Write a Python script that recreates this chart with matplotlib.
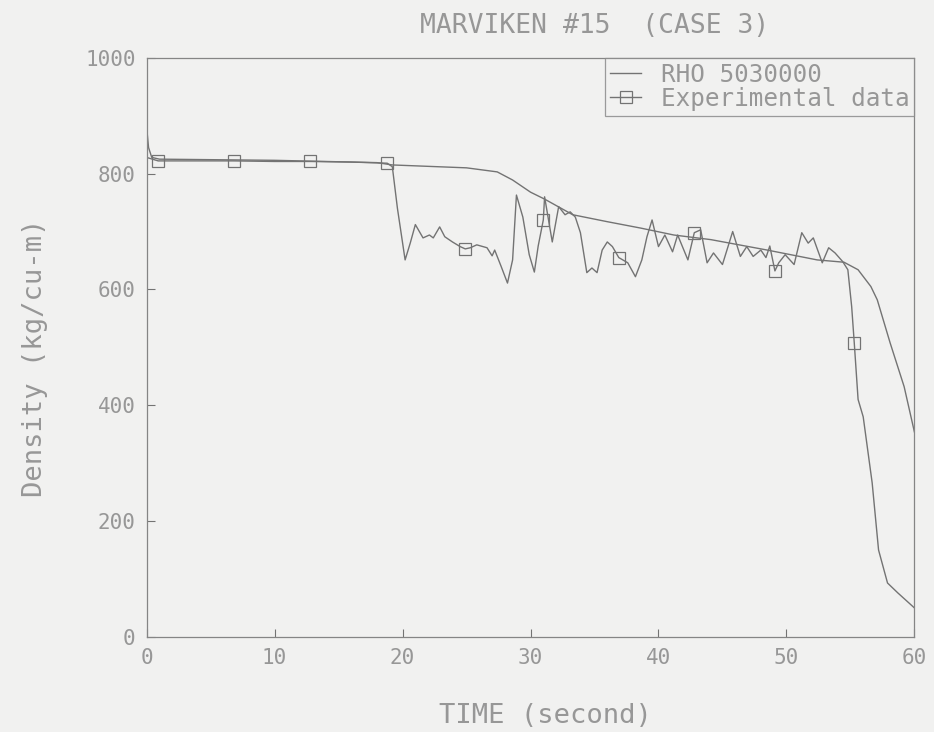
import matplotlib
matplotlib.use("Agg")
import matplotlib.pyplot as plt

# calculated density (RHO 5030000)
calc_t = [0.0, 0.15, 0.4, 1.0, 10.0, 18.0, 19.2, 25.0, 27.4, 28.6, 30.0, 31.1,
          33.3, 36.0, 38.6, 41.2, 44.1, 48.5, 52.4, 54.5, 55.6, 56.6, 57.1,
          58.1, 59.2, 60.0]
calc_v = [880, 845, 828, 825, 823, 819, 815, 810, 803, 789, 768, 756,
          729, 717, 706, 694, 686, 668, 651, 647, 634, 605, 582,
          508, 432, 354]

# experimental data
exp_t = [0.0, 0.9, 3.5, 6.8, 10.0, 12.8, 16.0, 18.8, 19.2, 19.6, 20.2, 20.6,
         21.0, 21.6, 22.1, 22.4, 22.9, 23.3, 23.9, 24.5, 24.9, 25.3, 25.8,
         26.6, 27.0, 27.2, 27.7, 28.2, 28.6, 28.9, 29.4, 29.9, 30.3, 30.6,
         31.0, 31.1, 31.7, 32.2, 32.7, 33.1, 33.5, 33.9, 34.4, 34.8, 35.2,
         35.6, 36.0, 36.4, 36.9, 37.6, 38.2, 38.7, 39.1, 39.5, 40.0, 40.5,
         41.1, 41.5, 42.3, 42.8, 43.3, 43.8, 44.3, 45.0, 45.8, 46.4, 46.9,
         47.4, 48.0, 48.4, 48.7, 49.1, 49.4, 49.9, 50.6, 51.2, 51.7, 52.1,
         52.8, 53.3, 53.8, 54.4, 54.8, 55.1, 55.3, 55.6, 56.0, 56.7, 57.2,
         57.9, 58.7, 59.5, 60.0]
exp_v = [828, 822, 822, 822, 821, 821, 820, 818, 812, 740, 651, 680,
         712, 689, 694, 689, 708, 691, 682, 674, 670, 672, 677,
         672, 658, 668, 640, 611, 651, 763, 725, 660, 630, 675,
         720, 760, 682, 743, 729, 734, 725, 698, 629, 637, 629,
         668, 682, 674, 655, 646, 622, 651, 691, 720, 674, 694,
         665, 694, 651, 698, 703, 646, 663, 643, 700, 657, 674,
         657, 668, 655, 675, 632, 646, 660, 643, 698, 680, 689,
         646, 672, 663, 648, 634, 570, 508, 410, 380, 266, 150,
         93, 76, 60, 50]
exp_marker_t = [0.9, 6.8, 12.8, 18.8, 24.9, 31.0, 36.9, 42.8, 49.1, 55.3]

x_ticks = [0, 10, 20, 30, 40, 50, 60]
y_ticks = [0, 200, 400, 600, 800, 1000]

bg = '#f1f1f0'
ink = '#737373'
txt = '#979797'
font = 'DejaVu Sans Mono'

fig = plt.figure(figsize=(9.34, 7.32), dpi=100, facecolor=bg)
ax = fig.add_axes([0.157, 0.130, 0.822, 0.791], facecolor=bg)

marker_idx = [exp_t.index(t) for t in exp_marker_t]

ax.plot(calc_t, calc_v, color=ink, lw=1.0, label='RHO 5030000')
ax.plot(exp_t, exp_v, color=ink, lw=1.0, marker='s', markersize=8,
        markerfacecolor='none', markeredgecolor=ink, markeredgewidth=0.9,
        markevery=marker_idx, label='Experimental data')

ax.set_xlim(0, 60)
ax.set_ylim(0, 1000)
ax.set_xticks(x_ticks)
ax.set_yticks(y_ticks)
ax.tick_params(direction='in', length=6, width=0.8, color=ink,
               labelcolor=txt, labelsize=15, pad=8)
for lab in ax.get_xticklabels() + ax.get_yticklabels():
    lab.set_family(font)
for s in ax.spines.values():
    s.set_color('#858585')
    s.set_linewidth(0.9)

ax.set_xlabel('TIME (second)', fontsize=19.5, color=txt, family=font)
ax.xaxis.set_label_coords(0.52, -0.115)
ax.set_ylabel('Density (kg/cu-m)', fontsize=19.5, color=txt, family=font)
ax.yaxis.set_label_coords(-0.128, 0.482)
fig.text(0.637, 0.965, 'MARVIKEN #15  (CASE 3)', fontsize=19, color=txt,
         family=font, ha='center', va='center')

leg = ax.legend(loc='upper right', borderaxespad=0, fancybox=False,
                handlelength=1.3, handletextpad=0.8, labelspacing=0.0,
                borderpad=0.2, prop={'family': font, 'size': 17.5})
leg.get_frame().set_edgecolor('#858585')
leg.get_frame().set_facecolor(bg)
leg.get_frame().set_linewidth(0.9)
for t in leg.get_texts():
    t.set_color(txt)

fig.savefig('out.png', dpi=100, facecolor=bg)
